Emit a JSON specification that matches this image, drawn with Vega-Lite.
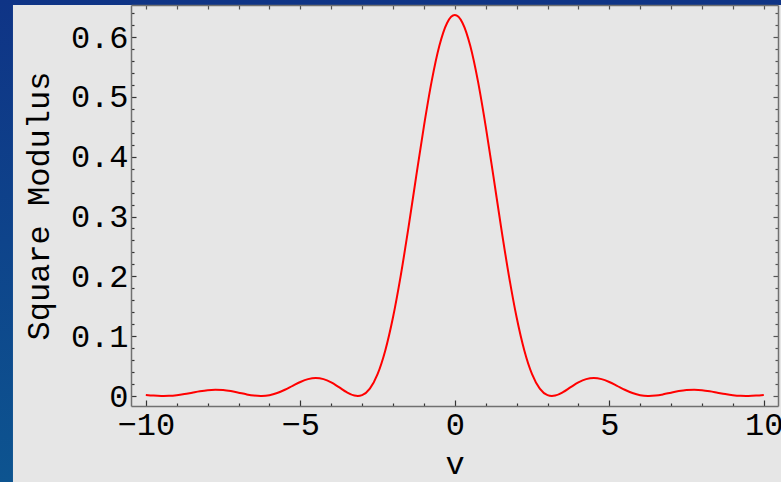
{
  "$schema": "https://vega.github.io/schema/vega-lite/v6.json",
  "width": 647,
  "height": 401,
  "autosize": {"type": "none"},
  "padding": {"left": 131, "top": 5, "right": 3, "bottom": 76},
  "background": "#0e4589",
  "config": {
    "view": {"stroke": null},
    "axis": {
      "labelFont": "Liberation Mono",
      "titleFont": "Liberation Mono",
      "labelFontSize": 32,
      "titleFontSize": 32,
      "titleFontWeight": "normal",
      "labelColor": "#000000",
      "titleColor": "#000000",
      "grid": false,
      "domainColor": "#707070",
      "domainWidth": 1.5,
      "tickColor": "#333333",
      "tickWidth": 1.2,
      "labelOverlap": false,
      "labelFlush": false
    }
  },
  "resolve": {"axis": {"x": "independent", "y": "independent"}},
  "layer": [
    {
      "data": {"values": [{}]},
      "mark": {"type": "rect", "clip": false, "fill": {"gradient": "linear", "x1": 0, "y1": 0, "x2": 0, "y2": 1, "stops": [{"offset": 0, "color": "#0f3486"}, {"offset": 1, "color": "#0d5490"}]}},
      "encoding": {
        "x": {"datum": -14.72, "type": "quantitative", "scale": {"domain": [-10.48, 10.46], "zero": false, "nice": false}, "axis": null},
        "x2": {"datum": 12},
        "y": {"datum": -0.1437, "type": "quantitative", "scale": {"domain": [-0.0167, 0.6535], "zero": false, "nice": false}, "axis": null},
        "y2": {"datum": 0.662}
      }
    },
    {
      "data": {"values": [{}]},
      "mark": {"type": "rect", "clip": false, "fill": "#e6e6e6"},
      "encoding": {
        "x": {"datum": -14.3, "type": "quantitative", "scale": {"domain": [-10.48, 10.46], "zero": false, "nice": false},
          "axis": {"orient": "top", "zindex": 1, "title": null, "labels": false, "values": [-10,-9,-8,-7,-6,-5,-4,-3,-2,-1,0,1,2,3,4,5,6,7,8,9,10], "tickSize": -4, "tickColor": "#555555"}},
        "x2": {"datum": 12},
        "y": {"datum": -0.2, "type": "quantitative", "scale": {"domain": [-0.0167, 0.6535], "zero": false, "nice": false},
          "axis": {"orient": "right", "zindex": 1, "title": null, "labels": false, "values": [0,0.02,0.04,0.06,0.08,0.1,0.12,0.14,0.16,0.18,0.2,0.22,0.24,0.26,0.28,0.3,0.32,0.34,0.36,0.38,0.4,0.42,0.44,0.46,0.48,0.5,0.52,0.54,0.56,0.58,0.6,0.62,0.64],
            "tickSize": {"condition": {"test": "abs(datum.value*10 - round(datum.value*10)) < 0.001", "value": -5}, "value": -3}, "tickColor": "#555555"}},
        "y2": {"datum": 0.6535}
      }
    },
    {
      "data": {"values": [
        {"v": -10, "m": 0.00188}, {"v": -9.75, "m": 0.00068}, {"v": -9.5, "m": 0.00004}, {"v": -9.4248, "m": 0}, {"v": -9.25, "m": 0.00023},
        {"v": -9, "m": 0.00134}, {"v": -8.75, "m": 0.00325}, {"v": -8.5, "m": 0.00562}, {"v": -8.25, "m": 0.00796}, {"v": -8, "m": 0.00974},
        {"v": -7.75, "m": 0.01049}, {"v": -7.5, "m": 0.00996}, {"v": -7.25, "m": 0.00821}, {"v": -7, "m": 0.00561}, {"v": -6.75, "m": 0.00283},
        {"v": -6.5, "m": 0.0007}, {"v": -6.2832, "m": 0}, {"v": -6.25, "m": 0.00002}, {"v": -6, "m": 0.00138}, {"v": -5.75, "m": 0.00497},
        {"v": -5.5, "m": 0.01048}, {"v": -5.25, "m": 0.01704}, {"v": -5, "m": 0.02342}, {"v": -4.75, "m": 0.02818}, {"v": -4.5, "m": 0.03004},
        {"v": -4.25, "m": 0.02823}, {"v": -4, "m": 0.02279}, {"v": -3.75, "m": 0.01479}, {"v": -3.5, "m": 0.0064}, {"v": -3.25, "m": 0.00071},
        {"v": -3.1416, "m": 0}, {"v": -3, "m": 0.00141}, {"v": -2.75, "m": 0.01226}, {"v": -2.5, "m": 0.03648}, {"v": -2.25, "m": 0.07613},
        {"v": -2, "m": 0.13159}, {"v": -1.75, "m": 0.20127}, {"v": -1.5, "m": 0.28153}, {"v": -1.25, "m": 0.36693}, {"v": -1, "m": 0.45078},
        {"v": -0.75, "m": 0.52586}, {"v": -0.5, "m": 0.58531}, {"v": -0.25, "m": 0.62347}, {"v": 0, "m": 0.63662},
        {"v": 0.25, "m": 0.62347}, {"v": 0.5, "m": 0.58531}, {"v": 0.75, "m": 0.52586}, {"v": 1, "m": 0.45078}, {"v": 1.25, "m": 0.36693},
        {"v": 1.5, "m": 0.28153}, {"v": 1.75, "m": 0.20127}, {"v": 2, "m": 0.13159}, {"v": 2.25, "m": 0.07613}, {"v": 2.5, "m": 0.03648},
        {"v": 2.75, "m": 0.01226}, {"v": 3, "m": 0.00141}, {"v": 3.1416, "m": 0}, {"v": 3.25, "m": 0.00071}, {"v": 3.5, "m": 0.0064},
        {"v": 3.75, "m": 0.01479}, {"v": 4, "m": 0.02279}, {"v": 4.25, "m": 0.02823}, {"v": 4.5, "m": 0.03004}, {"v": 4.75, "m": 0.02818},
        {"v": 5, "m": 0.02342}, {"v": 5.25, "m": 0.01704}, {"v": 5.5, "m": 0.01048}, {"v": 5.75, "m": 0.00497}, {"v": 6, "m": 0.00138},
        {"v": 6.25, "m": 0.00002}, {"v": 6.2832, "m": 0}, {"v": 6.5, "m": 0.0007}, {"v": 6.75, "m": 0.00283}, {"v": 7, "m": 0.00561},
        {"v": 7.25, "m": 0.00821}, {"v": 7.5, "m": 0.00996}, {"v": 7.75, "m": 0.01049}, {"v": 8, "m": 0.00974}, {"v": 8.25, "m": 0.00796},
        {"v": 8.5, "m": 0.00562}, {"v": 8.75, "m": 0.00325}, {"v": 9, "m": 0.00134}, {"v": 9.25, "m": 0.00023}, {"v": 9.4248, "m": 0},
        {"v": 9.5, "m": 0.00004}, {"v": 9.75, "m": 0.00068}, {"v": 10, "m": 0.00188}
      ]},
      "mark": {"type": "line", "color": "#ff0000", "strokeWidth": 2, "interpolate": "monotone", "clip": false},
      "encoding": {
        "x": {"field": "v", "type": "quantitative", "scale": {"domain": [-10.48, 10.46], "zero": false, "nice": false},
          "axis": {"orient": "bottom", "zindex": 1, "title": "v", "values": [-10,-9,-8,-7,-6,-5,-4,-3,-2,-1,0,1,2,3,4,5,6,7,8,9,10],
            "labelExpr": "datum.value % 5 === 0 ? datum.label : ''",
            "tickSize": {"condition": {"test": "datum.value % 5 === 0", "value": -6}, "value": -3},
            "labelPadding": 9, "titlePadding": 5}},
        "y": {"field": "m", "type": "quantitative", "title": "Square Modulus", "scale": {"domain": [-0.0167, 0.6535], "zero": false, "nice": false},
          "axis": {"orient": "left", "zindex": 1, "format": ".2~f",
            "values": [0,0.02,0.04,0.06,0.08,0.1,0.12,0.14,0.16,0.18,0.2,0.22,0.24,0.26,0.28,0.3,0.32,0.34,0.36,0.38,0.4,0.42,0.44,0.46,0.48,0.5,0.52,0.54,0.56,0.58,0.6,0.62,0.64],
            "labelExpr": "abs(datum.value*10 - round(datum.value*10)) < 0.001 ? datum.label : ''",
            "tickSize": {"condition": {"test": "abs(datum.value*10 - round(datum.value*10)) < 0.001", "value": -5}, "value": -3},
            "labelPadding": 8, "titlePadding": 15}}
      }
    }
  ]
}
